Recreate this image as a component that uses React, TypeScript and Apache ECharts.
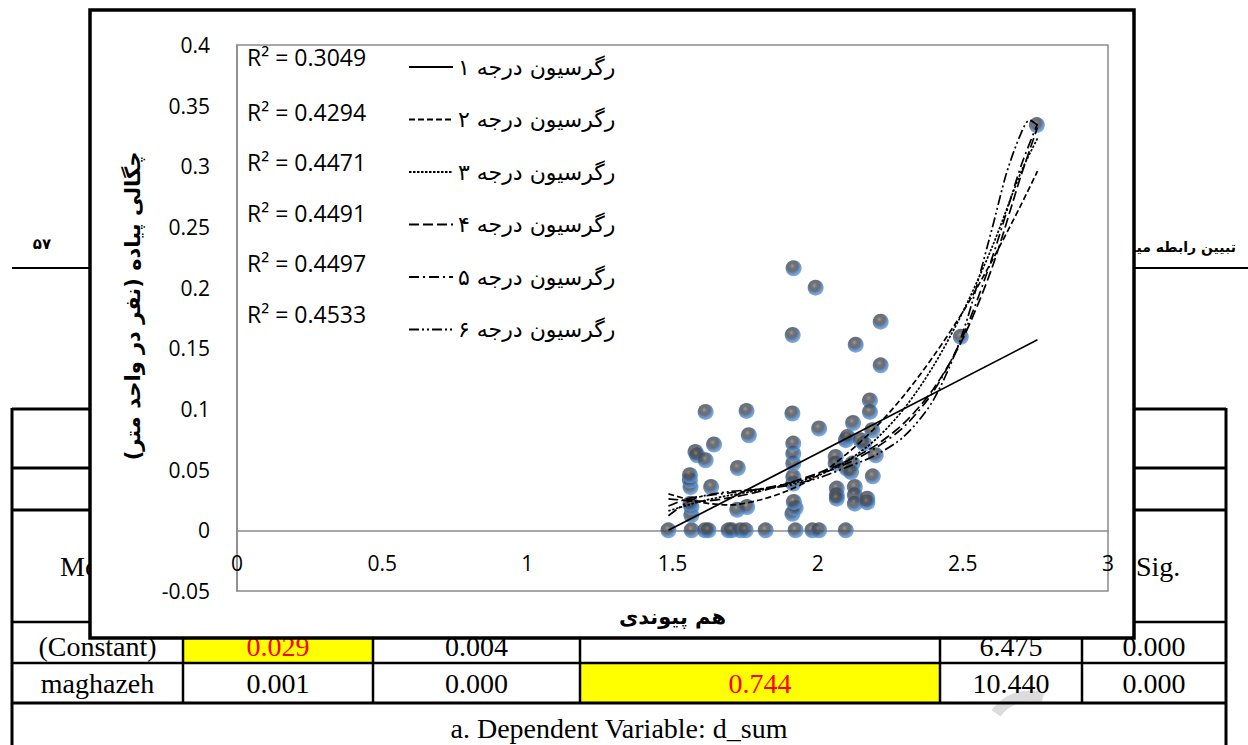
import React, { useEffect, useRef } from 'react';
import * as echarts from 'echarts';

// ---------- data ----------
const observations: [number, number][] = [
  [1.486, 0],
  [1.566, 0], [1.565, 0.0124], [1.565, 0.0192], [1.562, 0.022], [1.562, 0.0357], [1.56, 0.0413], [1.56, 0.0454], [1.579, 0.0646], [1.585, 0.0619],
  [1.612, 0], [1.624, 0], [1.614, 0.0578], [1.614, 0.0976], [1.633, 0.0357], [1.643, 0.0707],
  [1.693, 0], [1.704, 0], [1.734, 0], [1.752, 0], [1.723, 0.017], [1.757, 0.0192], [1.725, 0.0514], [1.755, 0.0984], [1.763, 0.0784],
  [1.821, 0],
  [1.924, 0], [1.913, 0.0137], [1.924, 0.0184], [1.918, 0.0234], [1.916, 0.0385], [1.916, 0.044], [1.916, 0.055], [1.916, 0.0632], [1.916, 0.0715], [1.913, 0.0963], [1.914, 0.161], [1.917, 0.216],
  [1.982, 0], [2.005, 0], [2.005, 0.0839], [1.993, 0.2],
  [2.066, 0.0344], [2.066, 0.0289], [2.066, 0.0261], [2.062, 0.0605], [2.062, 0.055],
  [2.097, 0], [2.097, 0.0743], [2.103, 0.077],
  [2.128, 0.0357], [2.128, 0.0289], [2.128, 0.022], [2.12, 0.055], [2.1, 0.051], [2.115, 0.048], [2.122, 0.0885], [2.131, 0.153],
  [2.148, 0.0743], [2.16, 0.0715], [2.171, 0.026], [2.171, 0.023],
  [2.18, 0.107], [2.18, 0.0976], [2.188, 0.0825], [2.2, 0.0619], [2.19, 0.0445], [2.217, 0.172], [2.217, 0.136],
  [2.493, 0.1595],
  [2.755, 0.334],
];

const trend1: [number, number][] = [[1.486, 0], [2.757, 0.157]];
const trend2: [number, number][] = [[1.486, 0.030], [1.6, 0.023], [1.7, 0.021], [1.8, 0.025], [1.9, 0.033], [2.0, 0.045], [2.1, 0.063], [2.2, 0.085], [2.3, 0.112], [2.4, 0.144], [2.5, 0.180], [2.6, 0.222], [2.7, 0.268], [2.757, 0.296]];
const trend3: [number, number][] = [[1.486, 0.016], [1.6, 0.024], [1.7, 0.029], [1.8, 0.033], [1.9, 0.038], [2.0, 0.045], [2.1, 0.057], [2.2, 0.075], [2.3, 0.101], [2.4, 0.136], [2.5, 0.180], [2.6, 0.233], [2.7, 0.295], [2.757, 0.323]];
const trend4: [number, number][] = [[1.486, 0.026], [1.6, 0.024], [1.7, 0.027], [1.8, 0.032], [1.9, 0.039], [2.0, 0.047], [2.1, 0.057], [2.2, 0.070], [2.3, 0.089], [2.4, 0.117], [2.5, 0.158], [2.6, 0.216], [2.7, 0.292], [2.757, 0.332]];
const trend5: [number, number][] = [[1.486, 0.020], [1.55, 0.026], [1.6, 0.028], [1.7, 0.031], [1.8, 0.034], [1.9, 0.039], [2.0, 0.046], [2.1, 0.055], [2.2, 0.068], [2.3, 0.086], [2.4, 0.115], [2.5, 0.160], [2.6, 0.224], [2.7, 0.300], [2.757, 0.335]];
const trend6: [number, number][] = [[1.486, 0.012], [1.55, 0.023], [1.6, 0.028], [1.7, 0.032], [1.8, 0.034], [1.9, 0.037], [2.0, 0.043], [2.1, 0.052], [2.2, 0.062], [2.3, 0.078], [2.4, 0.108], [2.5, 0.163], [2.6, 0.248], [2.65, 0.294], [2.7, 0.327], [2.73, 0.338], [2.757, 0.334]];

const trendNames = ['رگرسیون درجه ۱', 'رگرسیون درجه ۲', 'رگرسیون درجه ۳', 'رگرسیون درجه ۴', 'رگرسیون درجه ۵', 'رگرسیون درجه ۶'];
const r2Values = ['0.3049', '0.4294', '0.4471', '0.4491', '0.4497', '0.4533'];

const xAxisTitle = 'هم پیوندی';
const yAxisTitle = 'چگالی پیاده (نفر در واحد متر)';

// page (scanned document) content behind the chart
const pageHeader = 'تبیین رابطه میان';
const pageNumber = '۵۷';
const tableHeader = ['Model', 'Sig.'];
const rowConstant = ['(Constant)', '0.029', '0.004', '', '6.475', '0.000'];
const rowMaghazeh = ['maghazeh', '0.001', '0.000', '0.744', '10.440', '0.000'];
const tableNote = 'a. Dependent Variable: d_sum';

// ---------- styles ----------
const dashes: any[] = ['solid', [6, 3], [2.5, 1.5], [10, 4], [10, 4, 2, 4], [10, 3, 2, 3, 2, 3]];
const tickFont = '"Open Sans", "DejaVu Sans", sans-serif';
const faFont = '"DejaVu Sans", sans-serif';
const serif = '"Liberation Serif", "DejaVu Serif", serif';

const Y_MIN = -0.05;
const Y_MAX = 0.4;
const GRID_TOP = 45;
const GRID_H = 546;

export default function App() {
  const ref = useRef<HTMLDivElement>(null);

  useEffect(() => {
    if (!ref.current) return;
    const chart = echarts.init(ref.current, undefined, { renderer: 'svg' });

    const cols = [12, 183, 373, 580, 940, 1082, 1226];
    const colCenter = (i: number) => (cols[i] + cols[i + 1]) / 2;
    const g: any[] = [];
    const Z_PAGE = -30;

    // header rule and texts
    g.push({ type: 'line', z: Z_PAGE, shape: { x1: 12, y1: 268, x2: 1248, y2: 268 }, style: { stroke: '#000', lineWidth: 2 } });
    g.push({ type: 'text', z: Z_PAGE, x: 1236, y: 247, style: { text: pageHeader, align: 'right', verticalAlign: 'middle', font: `bold 14px ${faFont}`, fill: '#000' } });
    g.push({ type: 'text', z: Z_PAGE, x: 42, y: 244, style: { text: pageNumber, align: 'center', verticalAlign: 'middle', font: `bold 15px ${faFont}`, fill: '#000' } });

    // yellow cells
    g.push({ type: 'rect', z: Z_PAGE, shape: { x: cols[1], y: 622, width: cols[2] - cols[1], height: 41 }, style: { fill: '#ffff00' } });
    g.push({ type: 'rect', z: Z_PAGE, shape: { x: cols[3], y: 663, width: cols[4] - cols[3], height: 40 }, style: { fill: '#ffff00' } });

    // watermark arc
    g.push({ type: 'arc', z: Z_PAGE, shape: { cx: 1030, cy: 738, r: 42, startAngle: Math.PI * 1.2, endAngle: Math.PI * 1.6 }, style: { stroke: '#dcdcdc', lineWidth: 11, fill: 'none' } });

    // table lines
    const hl = (y: number, w: number) => g.push({ type: 'line', z: Z_PAGE + 1, shape: { x1: 12, y1: y, x2: 1226, y2: y }, style: { stroke: '#000', lineWidth: w } });
    hl(409, 3); hl(468, 3); hl(510, 3); hl(622, 2.5); hl(663, 2.5); hl(703, 3);
    g.push({ type: 'line', z: Z_PAGE + 1, shape: { x1: 12, y1: 408, x2: 12, y2: 745 }, style: { stroke: '#000', lineWidth: 3 } });
    g.push({ type: 'line', z: Z_PAGE + 1, shape: { x1: 1226, y1: 408, x2: 1226, y2: 745 }, style: { stroke: '#000', lineWidth: 3 } });
    for (let i = 1; i < cols.length - 1; i++) {
      g.push({ type: 'line', z: Z_PAGE + 1, shape: { x1: cols[i], y1: 622, x2: cols[i], y2: 703 }, style: { stroke: '#000', lineWidth: 2.5 } });
    }

    // table texts
    const cellText = (text: string, x: number, y: number, color = '#000', align = 'center') =>
      g.push({ type: 'text', z: Z_PAGE + 2, x, y, style: { text, align, verticalAlign: 'middle', font: `28px ${serif}`, fill: color } });
    cellText(tableHeader[0], 60, 566, '#000', 'left');
    cellText(tableHeader[1], 1136, 566, '#000', 'left');
    rowConstant.forEach((t, i) => { if (t) cellText(t, colCenter(i), 646, i === 1 ? '#ff0000' : '#000'); });
    rowMaghazeh.forEach((t, i) => cellText(t, colCenter(i), 683, i === 3 ? '#ff0000' : '#000'));
    cellText(tableNote, 619, 728);

    // chart frame covering the page
    g.push({ type: 'rect', z: -10, shape: { x: 90, y: 10, width: 1044, height: 628 }, style: { fill: '#fff', stroke: '#000', lineWidth: 3.5 } });

    // R² labels
    r2Values.forEach((v, i) => {
      g.push({ type: 'text', z: 20, x: 247, y: (i === 0 ? 57 : 61) + i * 50.5, style: { text: `R² = ${v}`, align: 'left', verticalAlign: 'middle', font: `23px ${tickFont}`, fill: '#000' } });
    });

    const sphere = {
      type: 'radial', x: 0.42, y: 0.36, r: 0.66,
      colorStops: [
        { offset: 0, color: '#808080' },
        { offset: 0.25, color: '#4f4f4f' },
        { offset: 0.52, color: '#3e4b60' },
        { offset: 0.78, color: '#4a82c6' },
        { offset: 1, color: '#62a2e2' },
      ],
    };

    const trends = [trend1, trend2, trend3, trend4, trend5, trend6];
    // x axis crosses the value axis at y = 0
    const zeroOffset = -((0 - Y_MIN) / (Y_MAX - Y_MIN)) * GRID_H;

    chart.setOption({
      animation: false,
      backgroundColor: '#fff',
      textStyle: { fontFamily: tickFont },
      grid: { left: 237, top: GRID_TOP, width: 871, height: GRID_H, show: true, borderColor: '#8a8a8a', borderWidth: 1.5, backgroundColor: 'transparent', z: 1 },
      legend: {
        data: trendNames,
        orient: 'vertical',
        left: 403,
        top: 51,
        itemWidth: 44,
        itemHeight: 12,
        itemGap: 30.5,
        selectedMode: false,
        z: 20,
        itemStyle: { opacity: 0 },
        textStyle: { fontSize: 22, lineHeight: 20, fontFamily: faFont, color: '#000' },
      },
      xAxis: {
        type: 'value', min: 0, max: 3, interval: 0.5, z: 5,
        offset: zeroOffset,
        axisLine: { onZero: false, lineStyle: { color: '#8a8a8a', width: 1.5 } },
        axisTick: { show: false },
        splitLine: { show: false },
        axisLabel: { fontSize: 21, color: '#000', margin: 22, showMinLabel: true, showMaxLabel: true, fontFamily: tickFont },
        name: xAxisTitle, nameLocation: 'middle', nameGap: 76,
        nameTextStyle: { fontSize: 21, fontWeight: 'bold', color: '#000', fontFamily: faFont },
      },
      yAxis: {
        type: 'value', min: Y_MIN, max: Y_MAX, interval: 0.05, z: 5,
        axisLine: { show: true, lineStyle: { color: '#8a8a8a', width: 1.5 } },
        axisTick: { show: false },
        splitLine: { show: false },
        axisLabel: { fontSize: 21, color: '#000', margin: 27, fontFamily: tickFont },
        name: yAxisTitle, nameLocation: 'middle', nameRotate: 90, nameGap: 94,
        nameTextStyle: { fontSize: 21, fontWeight: 'bold', color: '#000', fontFamily: faFont, padding: [0, 0, 0, 24] },
      },
      graphic: { elements: g },
      series: [
        {
          type: 'scatter', name: 'data', data: observations, symbolSize: 16, z: 6,
          itemStyle: { color: sphere as any },
        },
        ...trends.map((d, i) => ({
          type: 'line', name: trendNames[i], data: d, smooth: 0.3, symbol: 'none', z: 8,
          lineStyle: { color: '#000', width: 1.7, type: dashes[i] },
          itemStyle: { color: '#000' },
        })),
      ],
    });

    return () => chart.dispose();
  }, []);

  return <div ref={ref} style={{ position: 'absolute', left: 0, top: 0, width: 1248, height: 745 }} />;
}
